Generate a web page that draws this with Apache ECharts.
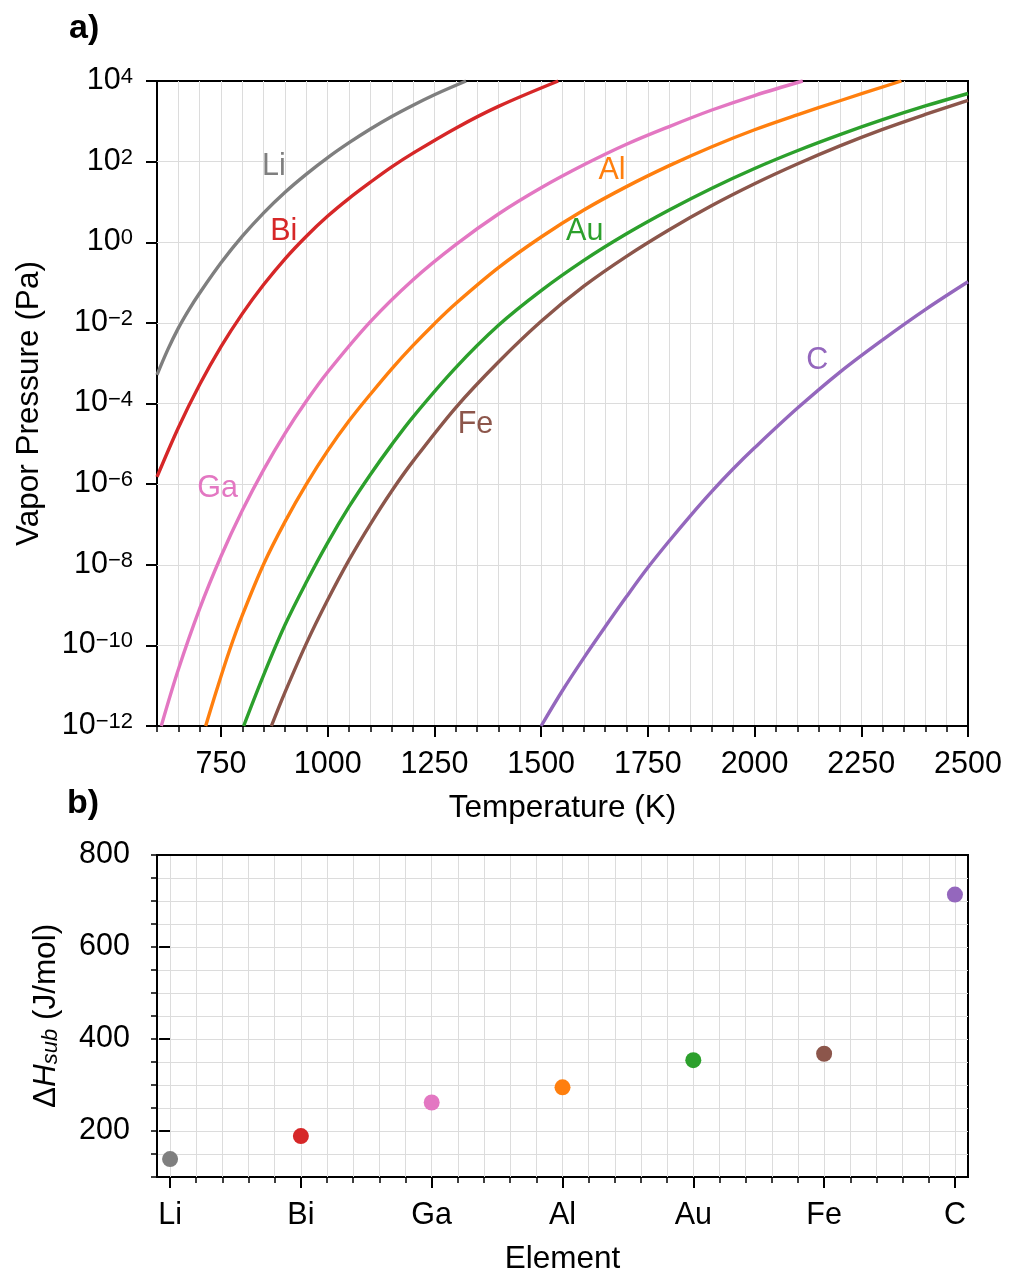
<!DOCTYPE html>
<html><head><meta charset="utf-8">
<script src="https://cdn.jsdelivr.net/npm/echarts@6/dist/echarts.min.js"></script>
<style>html,body{margin:0;padding:0;background:#fff}#c{width:1010px;height:1274px}</style>
</head><body><div id="c"></div><script>
const FONT = 'Liberation Sans';
const elements = ['Li', 'Bi', 'Ga', 'Al', 'Au', 'Fe', 'C'];
const elementColors = ['#7f7f7f', '#d62728', '#e377c2', '#ff7f0e', '#2ca02c', '#8c564b', '#9467bd'];

// Panel a: vapor pressure curves.
// Temperatures in K, pressures given as log10(P / Pa).
const liT = [600, 625, 650, 675, 700, 750, 800, 850, 900, 950, 1000, 1050, 1100, 1150, 1200, 1250, 1324];
const liLogP = [-3.29, -2.67, -2.13, -1.67, -1.26, -0.51, 0.15, 0.73, 1.24, 1.69, 2.10, 2.47, 2.81, 3.12, 3.40, 3.66, 4.0];
const biT = [600, 650, 700, 750, 800, 850, 900, 950, 1000, 1050, 1100, 1150, 1200, 1300, 1400, 1540];
const biLogP = [-5.82, -4.60, -3.53, -2.59, -1.77, -1.05, -0.41, 0.15, 0.65, 1.09, 1.49, 1.87, 2.21, 2.83, 3.37, 4.0];
const gaT = [610, 650, 700, 750, 800, 850, 900, 950, 1000, 1100, 1200, 1300, 1400, 1500, 1600, 1700, 1800, 1900, 2000, 2113];
const gaLogP = [-12.0, -10.60, -9.09, -7.79, -6.65, -5.64, -4.74, -3.94, -3.22, -1.97, -0.93, -0.06, 0.70, 1.35, 1.92, 2.43, 2.87, 3.28, 3.64, 4.0];
const alT = [714, 740, 770, 800, 850, 900, 950, 1000, 1050, 1100, 1150, 1200, 1250, 1300, 1400, 1500, 1600, 1700, 1800, 1900, 2000, 2100, 2200, 2344];
const alLogP = [-12.0, -11.1, -10.12, -9.25, -7.98, -6.93, -6.0, -5.17, -4.43, -3.77, -3.14, -2.56, -2.02, -1.52, -0.63, 0.13, 0.80, 1.38, 1.90, 2.37, 2.79, 3.16, 3.51, 4.0];
const auT = [803, 850, 900, 950, 1000, 1050, 1100, 1150, 1200, 1300, 1400, 1500, 1600, 1700, 1800, 1900, 2000, 2100, 2200, 2300, 2400, 2500];
const auLogP = [-12.0, -10.73, -9.49, -8.43, -7.45, -6.56, -5.76, -5.02, -4.33, -3.11, -2.06, -1.20, -0.45, 0.21, 0.80, 1.34, 1.83, 2.27, 2.67, 3.04, 3.38, 3.69];
const feT = [868, 900, 950, 1000, 1050, 1100, 1150, 1200, 1300, 1400, 1500, 1600, 1700, 1800, 1900, 2000, 2100, 2200, 2300, 2400, 2500];
const feLogP = [-12.0, -11.16, -9.95, -8.87, -7.88, -6.99, -6.17, -5.43, -4.10, -2.97, -1.96, -1.09, -0.35, 0.31, 0.91, 1.45, 1.94, 2.39, 2.80, 3.17, 3.52];
const cT = [1500, 1550, 1600, 1650, 1700, 1750, 1800, 1850, 1900, 1950, 2000, 2100, 2200, 2300, 2400, 2500];
const cLogP = [-12.0, -11.12, -10.31, -9.54, -8.79, -8.07, -7.41, -6.78, -6.18, -5.62, -5.10, -4.12, -3.22, -2.42, -1.67, -0.98];

// curve label anchor positions (T in K, log10 P)
const labelT = [874, 897, 742, 1666, 1602, 1346, 2147];
const labelLogP = [1.87, 0.276, -6.11, 1.775, 0.268, -4.53, -2.94];

// Panel b: sublimation enthalpy
const dHsub = [139, 189, 262, 295, 354, 368, 714];

// ticks
const tempTicks = [750, 1000, 1250, 1500, 1750, 2000, 2250, 2500];
const pressTicks = [1e-12, 1e-10, 1e-8, 1e-6, 1e-4, 1e-2, 1, 1e2, 1e4];
const pressGrid = [1e-10, 1e-8, 1e-6, 1e-4, 1e-2, 1, 1e2];
const dHTicks = [200, 400, 600, 800];
const elemPos = elements.map((e, i) => i);
const elemMinor = [];
for (let i = 0; i <= 30; i++) elemMinor.push(+(i * 0.2).toFixed(1));

const curveT = [liT, biT, gaT, alT, auT, feT, cT];
const curveLogP = [liLogP, biLogP, gaLogP, alLogP, auLogP, feLogP, cLogP];

const TICK = 30.5, TITLE = 31.5;
const GRIDC = '#dcdcdc';

function expLabel(v) {
  const e = Math.round(Math.log10(v));
  const s = e < 0 ? '\u2212' + (-e) : '' + e;
  return '{b|10}{e|' + s + '}';
}

const chart = echarts.init(document.getElementById('c'), null, {renderer: 'canvas'});

const series = [];
elements.forEach((name, k) => {
  series.push({
    type: 'line', name: name, xAxisIndex: 0, yAxisIndex: 0,
    data: curveT[k].map((t, i) => [t, Math.pow(10, curveLogP[k][i])]),
    showSymbol: false, symbol: 'none', smooth: 0.35,
    lineStyle: {color: elementColors[k], width: 3.4},
    z: 3, silent: true, animation: false,
    markPoint: {
      symbol: 'circle', symbolSize: 0, silent: true, animation: false,
      itemStyle: {color: 'transparent'},
      label: {show: true, position: 'inside', formatter: name, color: elementColors[k],
              fontSize: TICK, fontFamily: FONT},
      data: [{coord: [labelT[k], Math.pow(10, labelLogP[k])]}]
    }
  });
});
series.push({
  type: 'scatter', xAxisIndex: 2, yAxisIndex: 2, symbolSize: 16, z: 3, animation: false,
  data: elements.map((e, i) => ({value: [i, dHsub[i]], itemStyle: {color: elementColors[i], opacity: 1}}))
});

const axisLine = {show: true, onZero: false, lineStyle: {color: '#000', width: 2}};
const textBase = {color: '#000', fontFamily: FONT, fontSize: TICK};

const option = {
  animation: false,
  backgroundColor: '#fff',
  textStyle: {fontFamily: FONT},
  grid: [
    {left: 157, top: 81, width: 811, height: 645, show: true, borderColor: '#000', borderWidth: 2,
     backgroundColor: 'transparent', outerBoundsMode: 'none', containLabel: false},
    {left: 157, top: 855, width: 811, height: 322, show: true, borderColor: '#000', borderWidth: 2,
     backgroundColor: 'transparent', outerBoundsMode: 'none', containLabel: false}
  ],
  xAxis: [
    {gridIndex: 0, type: 'value', min: 600, max: 2500, interval: 50, position: 'bottom',
     axisLine: axisLine,
     axisTick: {show: true, length: 6, lineStyle: {color: '#000', width: 1.5}},
     axisLabel: Object.assign({customValues: tempTicks, margin: 23, formatter: v => String(v)}, textBase),
     splitLine: {show: true, showMinLine: false, showMaxLine: false, lineStyle: {color: GRIDC, width: 1}},
     name: 'Temperature (K)', nameLocation: 'middle', nameGap: 66,
     nameTextStyle: {color: '#000', fontFamily: FONT, fontSize: TITLE}},
    {gridIndex: 0, type: 'value', min: 600, max: 2500, interval: 50, position: 'bottom',
     axisLine: {show: false},
     axisTick: {show: true, customValues: tempTicks, length: 11, lineStyle: {color: '#000', width: 2}},
     axisLabel: {show: false}, splitLine: {show: false}},
    {gridIndex: 1, type: 'value', min: -0.1, max: 6.1, position: 'bottom',
     axisLine: axisLine,
     axisTick: {show: true, customValues: elemPos, length: 11, lineStyle: {color: '#000', width: 2}},
     axisLabel: Object.assign({customValues: elemPos, margin: 23, formatter: v => elements[Math.round(v)]}, textBase),
     splitLine: {show: false},
     name: 'Element', nameLocation: 'middle', nameGap: 66,
     nameTextStyle: {color: '#000', fontFamily: FONT, fontSize: TITLE}},
    {gridIndex: 1, type: 'value', min: -0.1, max: 6.1, position: 'bottom',
     axisLine: {show: false},
     axisTick: {show: true, customValues: elemMinor, length: 6, lineStyle: {color: '#000', width: 1.5}},
     axisLabel: {show: false}, splitLine: {show: false}},
    {gridIndex: 1, type: 'value', min: -0.1, max: 6.1, position: 'bottom',
     axisLine: {show: false},
     axisTick: {show: true, inside: true, customValues: elemMinor, length: 321, lineStyle: {color: GRIDC, width: 1}},
     axisLabel: {show: false}, splitLine: {show: false}}
  ],
  yAxis: [
    {gridIndex: 0, type: 'log', logBase: 10, min: 1e-12, max: 1e4, position: 'left',
     axisLine: axisLine,
     axisTick: {show: true, customValues: pressTicks, length: 11, lineStyle: {color: '#000', width: 2}},
     axisLabel: {customValues: pressTicks, margin: 24, formatter: expLabel,
       rich: {
         b: {fontSize: TICK, fontFamily: FONT, color: '#000', lineHeight: 30, verticalAlign: 'bottom'},
         e: {fontSize: 22, fontFamily: FONT, color: '#000', lineHeight: 22, verticalAlign: 'top', padding: [0, 0, 18, 0]}
       }},
     splitLine: {show: false}, minorTick: {show: false}, minorSplitLine: {show: false},
     name: 'Vapor Pressure (Pa)', nameLocation: 'middle', nameGap: 112, nameRotate: 90,
     nameTextStyle: {color: '#000', fontFamily: FONT, fontSize: TITLE}},
    {gridIndex: 0, type: 'log', logBase: 10, min: 1e-12, max: 1e4, position: 'left',
     axisLine: {show: false},
     axisTick: {show: true, inside: true, customValues: pressGrid, length: 810, lineStyle: {color: GRIDC, width: 1}},
     axisLabel: {show: false}, splitLine: {show: false}},
    {gridIndex: 1, type: 'value', min: 100, max: 800, interval: 50, position: 'left',
     axisLine: axisLine,
     axisTick: {show: true, length: 6, lineStyle: {color: '#000', width: 1.5}},
     axisLabel: Object.assign({customValues: dHTicks, margin: 27, padding: [4, 0, 0, 0]}, textBase),
     splitLine: {show: true, showMinLine: false, showMaxLine: false, lineStyle: {color: GRIDC, width: 1}},
     name: '{n|\u0394}{i|H}{s|sub}{n| (J/mol)}', nameLocation: 'middle', nameGap: 95, nameRotate: 90,
     nameTextStyle: {color: '#000', fontFamily: FONT, fontSize: TITLE,
       rich: {
         n: {fontSize: TITLE, fontFamily: FONT, color: '#000', lineHeight: 32, verticalAlign: 'top'},
         i: {fontSize: TITLE, fontFamily: FONT, fontStyle: 'italic', color: '#000', lineHeight: 32, verticalAlign: 'top'},
         s: {fontSize: 22, fontFamily: FONT, fontStyle: 'italic', color: '#000', lineHeight: 22, verticalAlign: 'top', padding: [10, 0, 0, 0]}
       }}},
    {gridIndex: 1, type: 'value', min: 100, max: 800, interval: 50, position: 'left',
     axisLine: {show: false},
     axisTick: {show: true, customValues: dHTicks, length: 11, lineStyle: {color: '#000', width: 2}},
     axisLabel: {show: false}, splitLine: {show: false}}
  ],
  graphic: [
    {type: 'text', left: 69, top: 12, style: {text: 'a)', fill: '#000', font: 'bold 34px "Liberation Sans"'}},
    {type: 'text', left: 67, top: 787, style: {text: 'b)', fill: '#000', font: 'bold 34px "Liberation Sans"'}}
  ],
  series: series
};
chart.setOption(option);
</script></body></html>
